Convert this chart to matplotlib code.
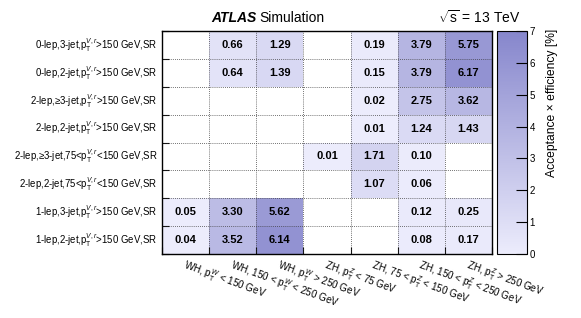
import numpy as np
import matplotlib
matplotlib.use("Agg")
import matplotlib.pyplot as plt
from matplotlib.colors import LinearSegmentedColormap

plt.rcParams['font.family'] = ['Liberation Sans', 'DejaVu Sans']
plt.rcParams['mathtext.fontset'] = 'custom'
plt.rcParams['mathtext.rm'] = 'Liberation Sans'
plt.rcParams['mathtext.it'] = 'Liberation Sans:italic'
plt.rcParams['mathtext.bf'] = 'Liberation Sans:bold'

row_labels = [
    r"0-lep,3-jet,p$_{\mathrm{T}}^{V,r}$>150 GeV,SR",
    r"0-lep,2-jet,p$_{\mathrm{T}}^{V,r}$>150 GeV,SR",
    r"2-lep,≥3-jet,p$_{\mathrm{T}}^{V,r}$>150 GeV,SR",
    r"2-lep,2-jet,p$_{\mathrm{T}}^{V,r}$>150 GeV,SR",
    r"2-lep,≥3-jet,75<p$_{\mathrm{T}}^{V,r}$<150 GeV,SR",
    r"2-lep,2-jet,75<p$_{\mathrm{T}}^{V,r}$<150 GeV,SR",
    r"1-lep,3-jet,p$_{\mathrm{T}}^{V,r}$>150 GeV,SR",
    r"1-lep,2-jet,p$_{\mathrm{T}}^{V,r}$>150 GeV,SR",
]
col_labels = [
    r"WH, p$_{\mathrm{T}}^{W}$ < 150 GeV",
    r"WH, 150 < p$_{\mathrm{T}}^{W}$ < 250 GeV",
    r"WH, p$_{\mathrm{T}}^{W}$ > 250 GeV",
    r"ZH, p$_{\mathrm{T}}^{Z}$ < 75 GeV",
    r"ZH, 75 < p$_{\mathrm{T}}^{Z}$ < 150 GeV",
    r"ZH, 150 < p$_{\mathrm{T}}^{Z}$ < 250 GeV",
    r"ZH, p$_{\mathrm{T}}^{Z}$ > 250 GeV",
]
row_0lep_3jet = [0, 0.66, 1.29, 0, 0.19, 3.79, 5.75]
row_0lep_2jet = [0, 0.64, 1.39, 0, 0.15, 3.79, 6.17]
row_2lep_3jet_hi = [0, 0, 0, 0, 0.02, 2.75, 3.62]
row_2lep_2jet_hi = [0, 0, 0, 0, 0.01, 1.24, 1.43]
row_2lep_3jet_lo = [0, 0, 0, 0.01, 1.71, 0.10, 0]
row_2lep_2jet_lo = [0, 0, 0, 0, 1.07, 0.06, 0]
row_1lep_3jet = [0.05, 3.30, 5.62, 0, 0, 0.12, 0.25]
row_1lep_2jet = [0.04, 3.52, 6.14, 0, 0, 0.08, 0.17]
cbar_ticks = [0, 1, 2, 3, 4, 5, 6, 7]

data = np.array([row_0lep_3jet, row_0lep_2jet, row_2lep_3jet_hi, row_2lep_2jet_hi,
                 row_2lep_3jet_lo, row_2lep_2jet_lo, row_1lep_3jet, row_1lep_2jet])
nr, nc = data.shape

W, H = 581, 318
fig = plt.figure(figsize=(W/100, H/100), dpi=100)
ax = fig.add_axes([162/W, 1-254/H, 330/W, 223/H])
cax = fig.add_axes([497/W, 1-254/H, 30/W, 223/H])

cmap = LinearSegmentedColormap.from_list("atl", ["#ececfc", "#8686cc"])
masked = np.ma.masked_where(data <= 0, data)
mesh = ax.pcolormesh(np.arange(nc+1), np.arange(nr+1), masked[::-1], cmap=cmap, vmin=0, vmax=7)
ax.set_xlim(0, nc)
ax.set_ylim(0, nr)

for i in range(1, nc):
    ax.axvline(i, color='#444444', lw=0.6, ls=(0, (1, 1.5)))
for j in range(1, nr):
    ax.axhline(j, color='#444444', lw=0.6, ls=(0, (1, 1.5)))

for r in range(nr):
    for c in range(nc):
        v = data[r, c]
        if v > 0:
            ax.text(c+0.5, nr-r-0.5, f"{v:.2f}", ha='center', va='center',
                    fontsize=8, fontweight='bold')

ax.set_xticks(np.arange(nc+1))
ax.set_yticks(np.arange(nr+1))
ax.set_xticklabels([])
ax.set_yticklabels([])
ax.tick_params(direction='in', length=5, width=0.8, top=False, right=False)
for s in ax.spines.values():
    s.set_linewidth(1.0)

for r, lab in enumerate(row_labels):
    ax.text(-0.1, nr-r-0.5, lab, ha='right', va='center', fontsize=6.9)
for c, lab in enumerate(col_labels):
    ax.text(c+0.52, -0.12, lab, ha='left', va='top', rotation=-20,
            rotation_mode='anchor', fontsize=7.1)

cb = fig.colorbar(mesh, cax=cax)
cb.set_ticks(cbar_ticks)
cax.tick_params(direction='in', length=8, width=0.8, labelsize=7, pad=2)
cb.outline.set_linewidth(0.8)
fig.text(552/W, 1-29/H, "Acceptance × efficiency [%]", rotation=90, ha='center', va='top', fontsize=8.7)

fig.text(211/W, 1-18/H, "ATLAS", fontsize=10, fontweight='bold', style='italic', va='center')
fig.text(259/W, 1-18/H, "Simulation", fontsize=10, va='center')
fig.text(438/W, 1-18/H, r"$\sqrt{\mathrm{s}}$ = 13 TeV", fontsize=10, va='center')

fig.savefig("out.png", dpi=100)
